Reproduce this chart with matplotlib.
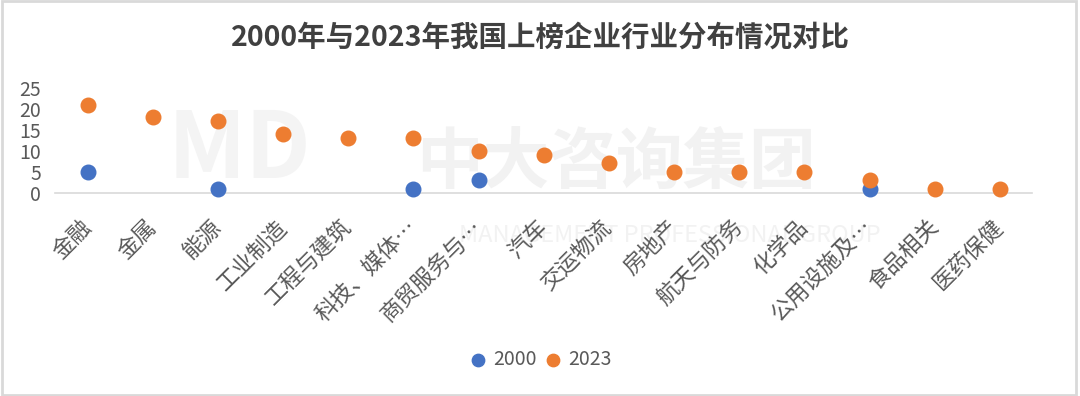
"""
2000年与2023年我国上榜企业行业分布情况对比 — 散点图
"""

import matplotlib.pyplot as plt
from matplotlib.patches import Rectangle
from matplotlib.transforms import ScaledTranslation

# 数据
categories = ['金融', '金属', '能源', '工业制造', '工程与建筑', '科技、媒体…',
              '商贸服务与…', '汽车', '交运物流', '房地产', '航天与防务', '化学品',
              '公用设施及…', '食品相关', '医药保健']
values_2000 = [5, None, 1, None, None, 1, 3, None, None, None, None, None, 1, None, None]
values_2023 = [21, 18, 17, 14, 13, 13, 10, 9, 7, 5, 5, 5, 3, 1, 1]
y_ticks = [0, 5, 10, 15, 20, 25]

plt.rcParams['font.family'] = ['Noto Sans CJK SC', 'DejaVu Sans']

BLUE = '#4472C4'
ORANGE = '#ED7D31'
GRAY = '#595959'

fig = plt.figure(figsize=(10.8, 3.96), dpi=100)
ax = fig.add_axes([0.051, 0.513, 0.905, 0.265])
ax.patch.set_alpha(0)

# 水印（画在坐标轴里，放在点的下面）
wm = dict(transform=fig.transFigure, clip_on=False, zorder=0, ha='left', va='bottom')
ax.text(0.155, 0.50, 'MD', fontsize=66, fontweight='black', color='#f4f4f4', **wm)
ax.text(0.385, 0.50, '中大咨询集团', fontsize=48, fontweight='bold', color='#f2f2f2', **wm)
ax.text(0.425, 0.375, 'MANAGEMENT PROFESSIONAL GROUP', fontsize=17, color='#f2f2f2', **wm)

x = list(range(len(categories)))
x_2000 = [i for i, v in zip(x, values_2000) if v is not None]
y_2000 = [v for v in values_2000 if v is not None]

ax.scatter(x_2000, y_2000, s=110, color=BLUE, zorder=3, label='2000', clip_on=False)
ax.scatter(x, values_2023, s=110, color=ORANGE, zorder=4, label='2023', clip_on=False)

ax.set_xlim(-0.5, len(categories) - 0.5)
ax.set_ylim(0, 25)
ax.set_yticks(y_ticks)
ax.set_yticklabels([str(t) for t in y_ticks], fontsize=14, color=GRAY, fontweight='light')
ax.set_xticks(x)
ax.set_xticklabels(categories, fontsize=16, color=GRAY, rotation=45, fontweight='light',
                   ha='right', va='center', rotation_mode='anchor')
shift = ScaledTranslation(4 / 72, 0, fig.dpi_scale_trans)
for lab in ax.get_xticklabels():
    lab.set_transform(lab.get_transform() + shift)
ax.tick_params(axis='both', length=0)
ax.tick_params(axis='y', pad=10)
ax.tick_params(axis='x', pad=22)

for side in ['top', 'right', 'left']:
    ax.spines[side].set_visible(False)
ax.spines['bottom'].set_color('#d9d9d9')
ax.spines['bottom'].set_linewidth(1.2)

fig.suptitle('2000年与2023年我国上榜企业行业分布情况对比', x=0.5, y=0.94,
             fontsize=20.5, fontweight='bold', color='#404040')

fig.legend(loc='center', bbox_to_anchor=(0.5, 0.091), ncol=2, frameon=False,
           labelcolor=GRAY, handlelength=1.0, handletextpad=0.28, columnspacing=0.38,
           markerscale=0.85, prop={'weight': 'light', 'size': 14})

# 外框
fig.patches.append(Rectangle((0.002, 0.003), 0.994, 0.994, transform=fig.transFigure,
                             fill=False, edgecolor='#d9d9d9', linewidth=2))

plt.savefig('out.png', dpi=100)
